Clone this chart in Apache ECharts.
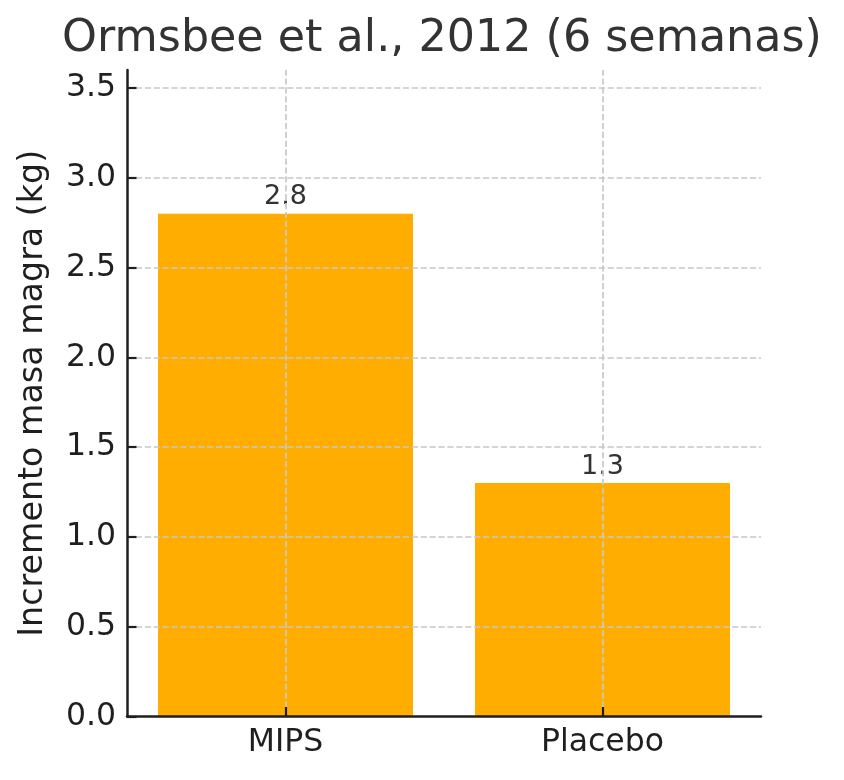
<!DOCTYPE html>
<html>
<head>
<meta charset="utf-8">
<script src="https://cdn.jsdelivr.net/npm/echarts@6/dist/echarts.min.js"></script>
<style>
html,body{margin:0;padding:0;background:#fff;}
#c{width:844px;height:780px;}
</style>
</head>
<body>
<div id="c"></div>
<script>
const categories = ['MIPS', 'Placebo'];
const values = [2.8, 1.3];
const yTicks = [0, 0.5, 1.0, 1.5, 2.0, 2.5, 3.0, 3.5];
const titleText = 'Ormsbee et al., 2012 (6 semanas)';
const yName = 'Incremento masa magra (kg)';

const FONT = 'DejaVu Sans';
const gridStyle = { color: '#c8c8c8', width: 1.7, type: [6.2, 2.7] };

const chart = echarts.init(document.getElementById('c'), null, { renderer: 'canvas' });

const markData = [];
categories.forEach(c => markData.push({ xAxis: c }));
yTicks.filter(v => v > 0).forEach(v => markData.push({ yAxis: v }));

chart.setOption({
  animation: false,
  backgroundColor: '#ffffff',
  title: {
    text: titleText,
    left: 437,
    textAlign: 'center',
    top: 12,
    textStyle: { fontFamily: FONT, fontSize: 44.4, fontWeight: 'normal', color: '#333333' }
  },
  grid: { left: 127, right: 83, top: 70, bottom: 63.5, containLabel: false },
  xAxis: {
    type: 'category',
    data: categories,
    boundaryGap: true,
    z: 6,
    axisLine: { show: true, lineStyle: { color: '#1f1f1f', width: 2.5 } },
    axisTick: { show: true, inside: true, alignWithLabel: true, length: 9.5, lineStyle: { color: '#1f1f1f', width: 2.2 } },
    axisLabel: { fontFamily: FONT, fontSize: 31.5, color: '#1f1f1f', margin: 10 },
    splitLine: { show: false }
  },
  yAxis: {
    type: 'value',
    min: 0,
    max: 3.6,
    interval: 0.5,
    z: 6,
    name: yName,
    nameLocation: 'middle',
    nameRotate: 90,
    nameGap: 77,
    nameTextStyle: { fontFamily: FONT, fontSize: 33.3, color: '#1f1f1f' },
    axisLine: { show: true, lineStyle: { color: '#1f1f1f', width: 2.5 } },
    axisTick: { show: true, inside: true, length: 9.5, customValues: yTicks, lineStyle: { color: '#1f1f1f', width: 2.2 } },
    axisLabel: { fontFamily: FONT, fontSize: 31.5, color: '#1f1f1f', margin: 11, customValues: yTicks, formatter: v => v.toFixed(1) },
    splitLine: { show: false }
  },
  series: [{
    type: 'bar',
    data: values,
    barWidth: 255,
    itemStyle: { color: '#ffad00' },
    label: {
      show: true,
      position: 'top',
      distance: 3,
      fontFamily: FONT,
      fontSize: 27,
      color: '#333333',
      formatter: p => p.value.toFixed(1)
    },
    markLine: {
      silent: true,
      symbol: 'none',
      z: 5,
      label: { show: false },
      lineStyle: gridStyle,
      emphasis: { disabled: true },
      data: markData
    }
  }]
});
</script>
</body>
</html>
